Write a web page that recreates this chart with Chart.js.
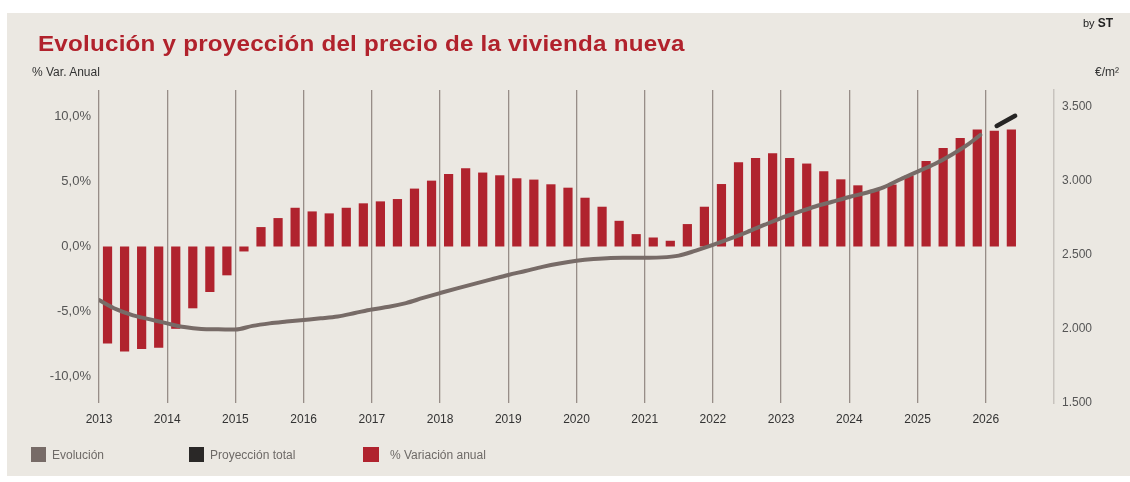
<!DOCTYPE html>
<html>
<head>
<meta charset="utf-8">
<script src="https://cdn.jsdelivr.net/npm/chart.js@4.4.1/dist/chart.umd.min.js"></script>
<style>
  html, body { margin:0; padding:0; background:#ffffff; }
  body { width:1130px; height:482px; position:relative; overflow:hidden; font-family:"Liberation Sans", Arial, sans-serif; }
  #panel { position:absolute; left:7px; top:13px; width:1123px; height:463px; background:#ebe8e2; }
  #c { position:absolute; left:0; top:0; }
  .t { position:absolute; white-space:nowrap; }
  #title { left:38px; top:31px; font-size:22px; font-weight:bold; color:#b1222c; letter-spacing:0.2px; line-height:26px; transform-origin:0 0; transform:scaleX(1.1); }
  #byst { left:1083px; top:16px; font-size:11px; color:#222; }
  #byst b { font-size:12px; }
  #lunit { left:32px; top:65px; font-size:12px; color:#333; }
  #runit { left:1095px; top:65px; font-size:12px; color:#333; }
  .leg { position:absolute; top:447px; height:16px; }
  .sw { position:absolute; top:0; width:15px; height:15px; }
  .lt { position:absolute; top:0; font-size:12px; color:#6e6a67; line-height:16px; white-space:nowrap; }
</style>
</head>
<body>
<div id="panel"></div>
<canvas id="c" width="1130" height="482"></canvas>
<div class="t" id="title">Evolución y proyección del precio de la vivienda nueva</div>
<div class="t" id="byst">by <b>ST</b></div>
<div class="t" id="lunit">% Var. Anual</div>
<div class="t" id="runit">€/m²</div>
<div class="leg" style="left:31px"><div class="sw" style="left:0;background:#776b67"></div><div class="lt" style="left:21px">Evolución</div></div>
<div class="leg" style="left:189px"><div class="sw" style="left:0;background:#2a2827"></div><div class="lt" style="left:21px">Proyección total</div></div>
<div class="leg" style="left:363px"><div class="sw" style="left:0;width:16px;background:#b0232e"></div><div class="lt" style="left:27px">% Variación anual</div></div>
<script>
// ---- Data ----
const years = ['2013','2014','2015','2016','2017','2018','2019','2020','2021','2022','2023','2024','2025','2026'];
const quarterNames = ['T1','T2','T3','T4'];
const leftTicks = [-10, -5, 0, 5, 10];
const rightTicks = [1500, 2000, 2500, 3000, 3500];

// % variación anual, trimestral desde 2013 T1 hasta 2026 T2
const variacion = [-7.44,-8.05,-7.85,-7.77,-6.31,-4.74,-3.49,-2.21,-0.38,1.49,2.18,2.97,2.69,2.54,2.97,3.31,
  3.46,3.64,4.44,5.05,5.56,6.00,5.67,5.46,5.23,5.13,4.77,4.51,3.74,3.05,1.97,0.95,0.69,0.44,1.72,3.05,
  4.79,6.46,6.79,7.15,6.79,6.36,5.77,5.15,4.69,4.35,4.75,5.44,6.56,7.56,8.31,8.97,8.87,8.97];

// Evolución €/m² : [fecha (año decimal), precio]
const evolucion = [[2013.00,2196],[2013.25,2134],[2013.50,2092],[2013.75,2065],[2014.00,2038],[2014.25,2013],
  [2014.50,2000],[2014.75,1998],[2015.00,1996],[2015.25,2021],[2015.50,2038],[2015.75,2050],[2016.00,2061],
  [2016.25,2072],[2016.50,2085],[2016.75,2108],[2017.00,2132],[2017.25,2150],[2017.50,2175],[2017.75,2210],
  [2018.00,2243],[2018.25,2275],[2018.50,2305],[2018.75,2335],[2019.00,2365],[2019.25,2392],[2019.50,2420],
  [2019.75,2443],[2020.00,2461],[2020.25,2473],[2020.50,2480],[2020.75,2481],[2021.00,2482],[2021.25,2484],
  [2021.50,2496],[2021.75,2530],[2022.00,2568],[2022.25,2610],[2022.50,2655],[2022.75,2703],[2023.00,2750],
  [2023.25,2790],[2023.50,2828],[2023.75,2860],[2024.00,2892],[2024.25,2921],[2024.50,2957],[2024.75,3012],
  [2025.00,3063],[2025.25,3115],[2025.50,3178],[2025.75,3251],[2025.92,3311]];

// Proyección total €/m²
const proyeccion = [[2026.16,3372],[2026.43,3441]];

// ---- Build ----
const quarters = [];
years.forEach(y => quarterNames.forEach(q => quarters.push(y + ' ' + q)));
const barPoints = variacion.map((v, i) => {
  const q = quarters[i].split(' ');
  return { x: Number(q[0]) + (quarterNames.indexOf(q[1]) + 0.5) / 4, y: v };
});
const toXY = arr => arr.map(p => ({ x: p[0], y: p[1] }));

const FONT = '"Liberation Sans", Arial, sans-serif';

new Chart(document.getElementById('c'), {
  type: 'bar',
  data: {
    datasets: [
      { type: 'line', label: 'Evolución', data: toXY(evolucion), yAxisID: 'y2', xAxisID: 'x',
        borderColor: '#776b67', borderWidth: 4, pointRadius: 0, tension: 0.3, cubicInterpolationMode: 'monotone',
        borderCapStyle: 'round', borderJoinStyle: 'round', order: 0 },
      { type: 'line', label: 'Proyección total', data: toXY(proyeccion), yAxisID: 'y2', xAxisID: 'x',
        borderColor: '#262524', borderWidth: 4.5, pointRadius: 0, borderCapStyle: 'round', order: 0 },
      { type: 'bar', label: '% Variación anual', data: barPoints, yAxisID: 'y', xAxisID: 'x',
        backgroundColor: '#b0232e', borderWidth: 0, barPercentage: 0.54, categoryPercentage: 1, order: 1 }
    ]
  },
  options: {
    responsive: false,
    animation: false,
    devicePixelRatio: 1,
    layout: { padding: { top: 90, left: 0, right: 0, bottom: 0 } },
    plugins: { legend: { display: false }, tooltip: { enabled: false }, title: { display: false } },
    scales: {
      x: {
        type: 'linear', min: 2013, max: 2027, offset: false,
        afterBuildTicks: s => { s.ticks = years.map(y => ({ value: Number(y) })); },
        afterFit: s => { s.height = 79; },
        ticks: { callback: v => String(v), color: '#333', font: { family: FONT, size: 12 }, padding: 9, maxRotation: 0, autoSkip: false },
        grid: { display: true, offset: false, color: '#978d88', lineWidth: 1.3, drawTicks: false },
        border: { display: false }
      },
      y: {
        position: 'left', min: -12, max: 12,
        afterBuildTicks: s => { s.ticks = leftTicks.map(v => ({ value: v })); },
        afterFit: s => { s.width = 99; },
        ticks: { callback: v => v.toFixed(1).replace('.', ',') + '%', color: '#555', font: { family: FONT, size: 13 }, padding: 8 },
        grid: { display: false, drawTicks: false },
        border: { display: false }
      },
      y2: {
        position: 'right', min: 1500, max: 3615,
        afterBuildTicks: s => { s.ticks = rightTicks.map(v => ({ value: v })); },
        afterFit: s => { s.width = 76; },
        ticks: { callback: v => String(v).replace(/\B(?=(\d{3})+(?!\d))/g, '.'), color: '#555', font: { family: FONT, size: 12 }, padding: 8 },
        grid: { display: false, drawTicks: false },
        border: { display: true, color: '#c8c3be', width: 1.5 }
      }
    }
  }
});
</script>
</body>
</html>
